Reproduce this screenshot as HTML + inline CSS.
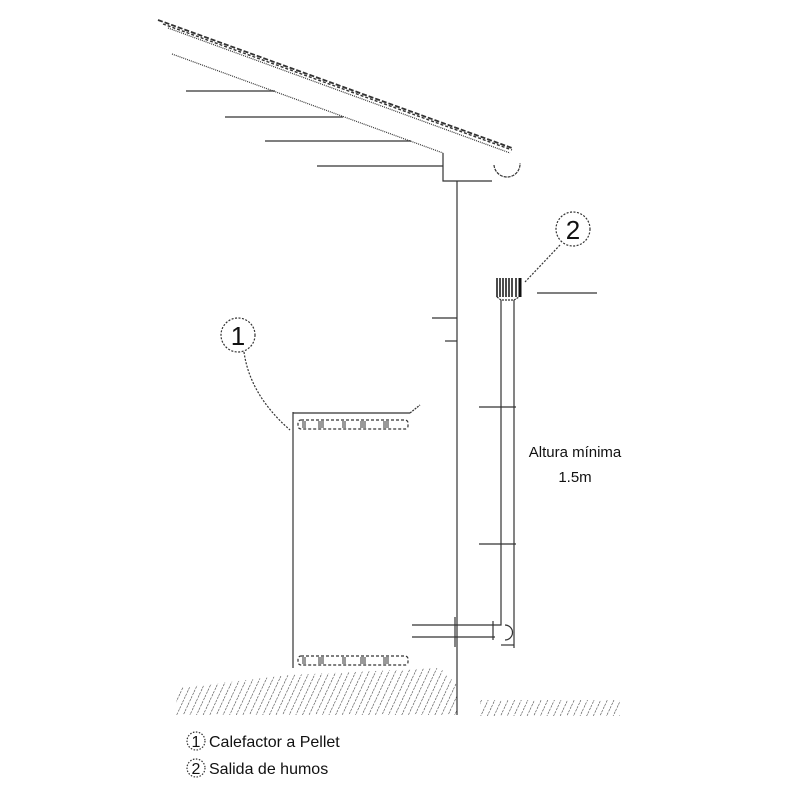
<!DOCTYPE html>
<html><head><style>body{margin:0;background:#fff}svg{display:block}</style></head><body>
<svg width="800" height="800" viewBox="0 0 800 800" xmlns="http://www.w3.org/2000/svg" font-family="Liberation Sans, sans-serif">
<defs>
<pattern id="h" width="6" height="7" patternUnits="userSpaceOnUse" patternTransform="rotate(25)">
<line x1="0" y1="0" x2="0" y2="7" stroke="#333" stroke-width="1.1" stroke-dasharray="2.5,1.2"/>
</pattern>
</defs>
<g stroke="#333" fill="none" stroke-width="1.2">
<!-- roof -->
<line x1="158" y1="20" x2="512" y2="148" stroke-dasharray="5,2" stroke-width="1.8"/>
<line x1="163" y1="24" x2="512" y2="150" stroke-dasharray="3,2" stroke-width="1.4"/>
<line x1="168" y1="28" x2="510" y2="153" stroke-dasharray="1,1"/>
<line x1="172" y1="54" x2="443" y2="153" stroke-dasharray="1,1"/>
<line x1="186" y1="91" x2="275" y2="91"/>
<line x1="225" y1="117" x2="343" y2="117"/>
<line x1="265" y1="141" x2="411" y2="141"/>
<line x1="317" y1="166" x2="443" y2="166"/>
<polyline points="443,153 443,181 492,181"/>
<path d="M494,165 A12,12 0 0 0 520,163" stroke-dasharray="3,1"/>
<!-- wall -->
<line x1="457" y1="181" x2="457" y2="715"/>
<line x1="432" y1="318" x2="457" y2="318"/>
<line x1="445" y1="341" x2="457" y2="341"/>
<!-- pipe -->
<line x1="501" y1="300" x2="501" y2="618"/>
<line x1="514" y1="300" x2="514" y2="618"/>
<path d="M497,297 L501,300 L514,300 L519,297" stroke-dasharray="2,1"/>
<line x1="537" y1="293" x2="597" y2="293"/>
<line x1="479" y1="407" x2="516" y2="407"/>
<line x1="479" y1="544" x2="516" y2="544"/>
<!-- elbow -->
<polyline points="501,618 501,625 495,625"/>
<polyline points="514,618 514,648"/>
<path d="M505,625 A7,7 0 0 1 505,640"/>
<line x1="501" y1="645" x2="514" y2="645"/>
<!-- horizontal connector -->
<line x1="412" y1="625" x2="495" y2="625"/>
<line x1="412" y1="637" x2="495" y2="637"/>
<line x1="493" y1="621" x2="493" y2="640"/>
<line x1="455" y1="617" x2="455" y2="647"/>
<!-- heater -->
<line x1="293" y1="412" x2="293" y2="668"/>
<line x1="293" y1="413" x2="410" y2="413"/>
<line x1="410" y1="413" x2="420" y2="405" stroke-dasharray="2,1"/>
<rect x="298" y="420" width="110" height="9" rx="3" stroke-dasharray="3,2"/>
<rect x="298" y="656" width="110" height="9" rx="3" stroke-dasharray="3,2"/>
<!-- callouts -->
<circle cx="238" cy="335" r="17" stroke-dasharray="2,1.5"/>
<path d="M244,352 Q250,395 290,430" stroke-dasharray="2,1.5"/>
<circle cx="573" cy="229" r="17" stroke-dasharray="2,1.5"/>
<line x1="560" y1="245" x2="525" y2="282" stroke-dasharray="2,1.5"/>
<circle cx="196" cy="741" r="9" stroke-dasharray="1.5,1.5"/>
<circle cx="196" cy="768" r="9" stroke-dasharray="1.5,1.5"/>
</g>
<!-- vent blocks -->
<g stroke="#555" stroke-width="1.2">
<path d="M303,421v7M305,421v7M319,421v7M321,421v7M323,421v7M343,421v7M345,421v7M361,421v7M363,421v7M365,421v7M384,421v7M386,421v7M388,421v7"/>
<path d="M303,657v7M305,657v7M319,657v7M321,657v7M323,657v7M343,657v7M345,657v7M361,657v7M363,657v7M365,657v7M384,657v7M386,657v7M388,657v7"/>
</g>
<!-- cap -->
<g stroke="#111" stroke-width="1.5">
<line x1="497" y1="278" x2="497" y2="297"/><line x1="500" y1="278" x2="500" y2="297"/>
<line x1="503" y1="278" x2="503" y2="297"/><line x1="506" y1="278" x2="506" y2="297"/>
<line x1="509" y1="278" x2="509" y2="297"/><line x1="512" y1="278" x2="512" y2="297"/>
<line x1="516" y1="278" x2="516" y2="297"/><line x1="520" y1="278" x2="520" y2="297" stroke-width="3"/>
</g>
<!-- hatching -->
<path d="M178,688 L290,675 L440,668 L457,685 L457,715 L175,715 Z" fill="url(#h)"/>
<rect x="480" y="700" width="140" height="16" fill="url(#h)"/>
<g fill="#111">
<text x="238" y="345" font-size="26" text-anchor="middle">1</text>
<text x="573" y="239" font-size="26" text-anchor="middle">2</text>
<text x="575" y="457" font-size="15" text-anchor="middle">Altura mínima</text>
<text x="575" y="482" font-size="15" text-anchor="middle">1.5m</text>
<text x="196" y="747" font-size="16" text-anchor="middle">1</text>
<text x="196" y="774" font-size="16" text-anchor="middle">2</text>
<text x="209" y="747" font-size="16">Calefactor a Pellet</text>
<text x="209" y="774" font-size="16">Salida de humos</text>
</g>
</svg>
</body></html>
